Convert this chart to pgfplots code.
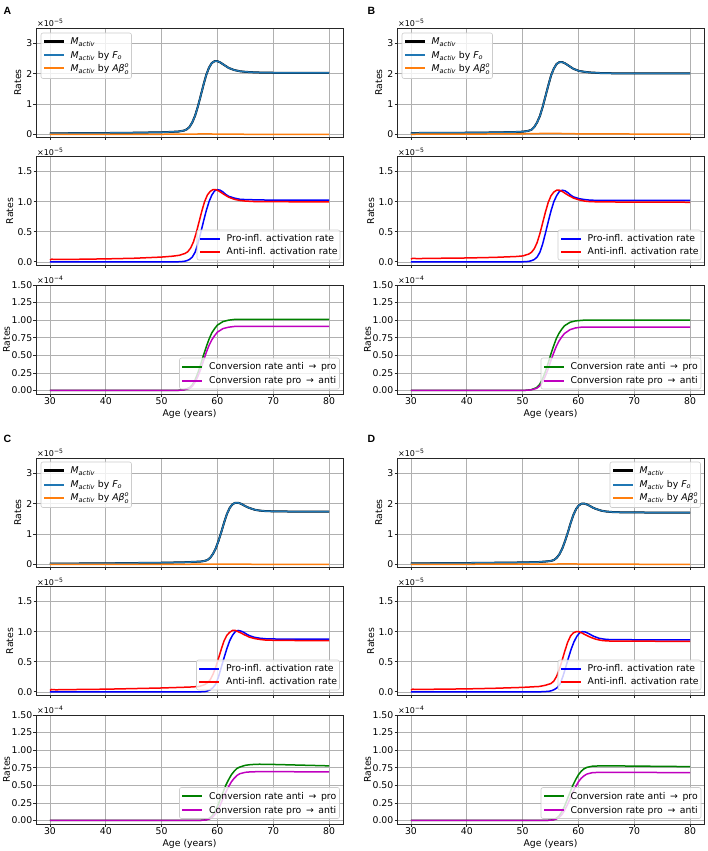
\documentclass[border=0pt]{standalone}
\usepackage{fontspec}
\usepackage{amsmath}
\setmainfont{DejaVu Sans}
\newfontfamily\letterfont{Liberation Sans}
\usepackage{pgfplots}
\pgfplotsset{compat=1.18}
\definecolor{tabblue}{HTML}{1F77B4}
\definecolor{taborange}{HTML}{FF7F0E}
\definecolor{mplgreen}{HTML}{008000}
\definecolor{mplmag}{HTML}{BF00BF}
\definecolor{gridgray}{HTML}{B0B0B0}
\definecolor{legframe}{HTML}{CCCCCC}
\newcommand{\fs}{\fontsize{9.3}{11}\selectfont}
\tikzset{mult/.style={anchor=south west, inner sep=1pt, font=\fontsize{8}{9}\selectfont},
  letter/.style={font=\letterfont\bfseries\fontsize{10.5}{12}\selectfont}}
\newcommand{\arr}{\enspace→\enspace}
% legend helpers (coordinates relative to the legend's north-west corner)
\newcommand{\legbox}[2]{\draw[draw=legframe, fill=white, fill opacity=0.8, rounded corners=2pt, line width=0.6pt] (0,0) rectangle (#1,-#2);}
\newcommand{\legrow}[4]{\fill[#2] (2.5pt,-#1-#3/2) rectangle (22.5pt,-#1+#3/2);
  \node[anchor=base west, inner sep=0pt, font=\fs] at (29.5pt,-#1-3.3pt) {#4};}
\newcommand{\legtop}[2]{\begin{scope}[shift={(#1,#2)}]
  \legbox{90.5pt}{45.5pt}
  \legrow{8.5pt}{black}{2.2pt}{$\textit{M}_{\textit{activ}}$}
  \legrow{22.5pt}{tabblue}{2pt}{$\textit{M}_{\textit{activ}}$ by $\textit{F}_{\textit{o}}$}
  \legrow{35.5pt}{taborange}{2pt}{$\textit{M}_{\textit{activ}}$ by $\textit{Aβ}^{\textit{o}}_{\textit{o}}$}
  \end{scope}}
\newcommand{\legmid}[2]{\begin{scope}[shift={(#1,#2)}]
  \legbox{143pt}{30pt}
  \legrow{8.5pt}{blue}{2pt}{Pro-infl. activation rate}
  \legrow{21.5pt}{red}{2pt}{Anti-infl. activation rate}
  \end{scope}}
\newcommand{\legbot}[2]{\begin{scope}[shift={(#1,#2)}]
  \legbox{160pt}{31pt}
  \legrow{8.5pt}{mplgreen}{2pt}{Conversion rate anti\arr pro}
  \legrow{22.5pt}{mplmag}{2pt}{Conversion rate pro\arr anti}
  \end{scope}}
\pgfplotsset{
  base/.style={
    scale only axis, width=307pt, height=109pt,
    xmin=27.5, xmax=82.5, xtick={30,40,50,60,70,80},
    grid=major, major grid style={line width=0.6pt, color=gridgray},
    axis line style={line width=0.8pt, black!85},
    tick align=outside, tick pos=left, major tick length=2.5pt,
    tick style={line width=0.8pt, black!85},
    tick label style={font=\fs, inner sep=1pt},
    label style={font=\fs},
    /pgf/number format/assume math mode=true,
    ylabel={Rates},
    xlabel style={at={(axis description cs:0.5,-0.183)}, anchor=center},
    every axis plot/.append style={line width=1.5pt},
  },
  toprow/.style={base, ymin=-0.08, ymax=3.5, ytick={0,1,2,3},
    yticklabel style={/pgf/number format/fixed,/pgf/number format/precision=0},
    xticklabels={},
    ylabel style={at={(axis description cs:-0.059,0.5)}, anchor=center},
    extra description/.code={\node[mult] at (0,1) {×10\textsuperscript{−5}};}},
  midrow/.style={base, ymin=-0.06, ymax=1.75, ytick={0,0.5,1,1.5},
    yticklabel style={/pgf/number format/fixed,/pgf/number format/fixed zerofill,/pgf/number format/precision=1},
    xticklabels={},
    ylabel style={at={(axis description cs:-0.085,0.5)}, anchor=center},
    extra description/.code={\node[mult] at (0,1) {×10\textsuperscript{−5}};}},
  botrow/.style={base, ymin=-0.05, ymax=1.5, ytick={0,0.25,0.5,0.75,1,1.25,1.5},
    yticklabel style={/pgf/number format/fixed,/pgf/number format/fixed zerofill,/pgf/number format/precision=2},
    xlabel={Age (years)},
    ylabel style={at={(axis description cs:-0.096,0.5)}, anchor=center},
    extra description/.code={\node[mult] at (0,1) {×10\textsuperscript{−4}};}},
}
\begin{document}
\begin{tikzpicture}
\useasboundingbox (0,0) rectangle (708pt,-851pt);
\node[letter] at (7.5pt,-10.5pt) {A};
\node[letter] at (371.5pt,-10.5pt) {B};
\node[letter] at (7.5pt,-439pt) {C};
\node[letter] at (371.5pt,-439pt) {D};

%================ PANEL A ================
\begin{axis}[toprow, at={(36pt,-28pt)}, anchor=north west]
\addplot[draw=black, line width=2pt] coordinates {(30,0.04)(35,0.045)(40,0.05)(45,0.06)(50,0.075)(52,0.09)(53,0.10)(54,0.13)(54.5,0.17)(55,0.25)(55.5,0.40)(56,0.62)(56.5,0.92)(57,1.27)(57.5,1.63)(58,1.96)(58.5,2.20)(59,2.35)(59.5,2.41)(60,2.41)(60.5,2.37)(61,2.31)(61.5,2.25)(62,2.19)(63,2.12)(64,2.08)(65,2.06)(67,2.04)(70,2.03)(80,2.03)};
\addplot[draw=tabblue] coordinates {(30,0.04)(35,0.045)(40,0.05)(45,0.06)(50,0.075)(52,0.09)(53,0.10)(54,0.13)(54.5,0.17)(55,0.25)(55.5,0.40)(56,0.62)(56.5,0.92)(57,1.27)(57.5,1.63)(58,1.96)(58.5,2.20)(59,2.35)(59.5,2.41)(60,2.41)(60.5,2.37)(61,2.31)(61.5,2.25)(62,2.19)(63,2.12)(64,2.08)(65,2.06)(67,2.04)(70,2.03)(80,2.03)};
\addplot[draw=taborange] coordinates {(30,0.005)(40,0.008)(50,0.01)(55,0.015)(57,0.02)(60,0.018)(65,0.01)(80,0.008)};
\end{axis}
\legtop{41pt}{-33pt}

\begin{axis}[midrow, at={(36pt,-156.5pt)}, anchor=north west]
\addplot[draw=blue] coordinates {(30,0)(50,0)(53,0.002)(54,0.008)(54.5,0.02)(55,0.04)(55.5,0.08)(56,0.16)(56.5,0.30)(57,0.48)(57.5,0.67)(58,0.85)(58.5,1.0)(59,1.11)(59.5,1.18)(60,1.20)(60.5,1.19)(61,1.16)(61.5,1.12)(62,1.09)(63,1.06)(64,1.04)(65,1.035)(67,1.03)(70,1.025)(80,1.025)};
\addplot[draw=red] coordinates {(30,0.03)(30.3,0.045)(31,0.04)(33,0.04)(36,0.045)(40,0.05)(45,0.06)(50,0.08)(52,0.095)(53.2,0.11)(54.2,0.14)(54.7,0.17)(55.2,0.23)(55.7,0.33)(56.2,0.48)(56.7,0.66)(57.2,0.84)(57.7,1.0)(58.2,1.11)(58.7,1.17)(59.2,1.20)(59.7,1.20)(60.2,1.18)(60.7,1.15)(61.2,1.12)(62,1.075)(63,1.04)(64,1.02)(65,1.01)(67,1.0)(70,1.0)(80,0.995)};
\end{axis}
\legmid{197pt}{-230pt}

\begin{axis}[botrow, at={(36pt,-285pt)}, anchor=north west]
\addplot[draw=mplgreen] coordinates {(30,0)(50,0)(53,0.003)(54,0.01)(55,0.04)(55.5,0.08)(56,0.15)(56.5,0.25)(57,0.37)(57.5,0.5)(58,0.62)(58.5,0.73)(59,0.82)(59.5,0.88)(60,0.93)(61,0.98)(62,1.0)(63,1.01)(65,1.012)(80,1.012)};
\addplot[draw=mplmag] coordinates {(30,0)(50,0)(53,0.002)(54,0.008)(55,0.03)(55.5,0.06)(56,0.12)(56.5,0.2)(57,0.3)(57.5,0.42)(58,0.54)(58.5,0.64)(59,0.72)(59.5,0.78)(60,0.83)(61,0.88)(62,0.9)(63,0.91)(65,0.912)(80,0.912)};
\end{axis}
\legbot{179.5pt}{-358pt}

%================ PANEL B ================
\begin{axis}[toprow, at={(397pt,-28pt)}, anchor=north west]
\addplot[draw=black, line width=2pt] coordinates {(30,0.05)(35,0.055)(40,0.06)(45,0.07)(49,0.085)(50,0.095)(51,0.12)(51.6,0.16)(52.1,0.25)(52.6,0.40)(53.1,0.61)(53.6,0.91)(54.1,1.26)(54.6,1.61)(55.1,1.94)(55.6,2.17)(56.1,2.32)(56.6,2.38)(57.1,2.38)(57.6,2.34)(58.1,2.28)(58.6,2.22)(59.1,2.16)(60.1,2.09)(61.1,2.06)(62.1,2.04)(64,2.02)(67,2.01)(80,2.01)};
\addplot[draw=tabblue] coordinates {(30,0.05)(35,0.055)(40,0.06)(45,0.07)(49,0.085)(50,0.095)(51,0.12)(51.6,0.16)(52.1,0.25)(52.6,0.40)(53.1,0.61)(53.6,0.91)(54.1,1.26)(54.6,1.61)(55.1,1.94)(55.6,2.17)(56.1,2.32)(56.6,2.38)(57.1,2.38)(57.6,2.34)(58.1,2.28)(58.6,2.22)(59.1,2.16)(60.1,2.09)(61.1,2.06)(62.1,2.04)(64,2.02)(67,2.01)(80,2.01)};
\addplot[draw=taborange] coordinates {(30,0.01)(40,0.015)(50,0.025)(53,0.035)(55,0.04)(57,0.035)(60,0.025)(65,0.02)(80,0.015)};
\end{axis}
\legtop{402pt}{-33pt}

\begin{axis}[midrow, at={(397pt,-156.5pt)}, anchor=north west]
\addplot[draw=blue] coordinates {(30,0)(47,0)(50.1,0.002)(51.1,0.008)(51.6,0.02)(52.1,0.04)(52.6,0.08)(53.1,0.16)(53.6,0.30)(54.1,0.48)(54.6,0.67)(55.1,0.85)(55.6,1.0)(56.1,1.10)(56.6,1.17)(57.1,1.19)(57.6,1.18)(58.1,1.15)(58.6,1.11)(59.1,1.08)(60.1,1.05)(61.1,1.035)(62.1,1.025)(64,1.02)(67,1.02)(80,1.02)};
\addplot[draw=red] coordinates {(30,0.045)(30.3,0.06)(31,0.055)(35,0.06)(40,0.065)(45,0.075)(49,0.09)(50.1,0.10)(51.1,0.13)(51.6,0.16)(52.1,0.22)(52.6,0.32)(53.1,0.47)(53.6,0.65)(54.1,0.83)(54.6,0.99)(55.1,1.10)(55.6,1.16)(56.1,1.19)(56.6,1.19)(57.1,1.17)(57.6,1.14)(58.1,1.11)(59.1,1.06)(60.1,1.03)(61.1,1.01)(62.1,1.0)(65,0.995)(80,0.99)};
\end{axis}
\legmid{558pt}{-230pt}

\begin{axis}[botrow, at={(397pt,-285pt)}, anchor=north west]
\addplot[draw=mplgreen] coordinates {(30,0)(47.5,0)(50.5,0.003)(51.5,0.01)(52.5,0.04)(53,0.08)(53.5,0.15)(54,0.25)(54.5,0.37)(55,0.5)(55.5,0.62)(56,0.73)(56.5,0.81)(57,0.87)(57.5,0.92)(58.5,0.97)(59.5,0.99)(61,1.0)(80,1.0)};
\addplot[draw=mplmag] coordinates {(30,0)(47.5,0)(50.5,0.003)(51.5,0.008)(52.5,0.03)(53,0.06)(53.5,0.11)(54,0.19)(54.5,0.29)(55,0.41)(55.5,0.52)(56,0.62)(56.5,0.70)(57,0.76)(57.5,0.81)(58.5,0.865)(59.5,0.89)(60.5,0.9)(62,0.9)(80,0.9)};
\end{axis}
\legbot{541pt}{-358pt}

%================ PANEL C ================
\begin{axis}[toprow, at={(36pt,-458pt)}, anchor=north west]
\addplot[draw=black, line width=2pt] coordinates {(30,0.03)(35,0.035)(40,0.04)(45,0.05)(50,0.06)(54,0.075)(56,0.09)(57,0.10)(57.7,0.12)(58.2,0.15)(58.7,0.22)(59.2,0.35)(59.7,0.53)(60.2,0.78)(60.7,1.07)(61.2,1.38)(61.7,1.66)(62.2,1.86)(62.7,1.98)(63.2,2.03)(63.7,2.03)(64.2,2.00)(64.7,1.95)(65.2,1.90)(65.7,1.86)(66.7,1.80)(67.7,1.77)(68.7,1.755)(71,1.745)(75,1.74)(80,1.74)};
\addplot[draw=tabblue] coordinates {(30,0.03)(35,0.035)(40,0.04)(45,0.05)(50,0.06)(54,0.075)(56,0.09)(57,0.10)(57.7,0.12)(58.2,0.15)(58.7,0.22)(59.2,0.35)(59.7,0.53)(60.2,0.78)(60.7,1.07)(61.2,1.38)(61.7,1.66)(62.2,1.86)(62.7,1.98)(63.2,2.03)(63.7,2.03)(64.2,2.00)(64.7,1.95)(65.2,1.90)(65.7,1.86)(66.7,1.80)(67.7,1.77)(68.7,1.755)(71,1.745)(75,1.74)(80,1.74)};
\addplot[draw=taborange] coordinates {(30,0.004)(40,0.006)(50,0.008)(58,0.012)(61,0.015)(64,0.012)(70,0.008)(80,0.006)};
\end{axis}
\legtop{41pt}{-462pt}

\begin{axis}[midrow, at={(36pt,-586.5pt)}, anchor=north west]
\addplot[draw=blue] coordinates {(30,0)(55,0)(57.7,0.003)(58.2,0.015)(58.7,0.035)(59.2,0.07)(59.7,0.13)(60.2,0.25)(60.7,0.41)(61.2,0.57)(61.7,0.72)(62.2,0.85)(62.7,0.94)(63.2,1.0)(63.7,1.02)(64.2,1.01)(64.7,0.99)(65.2,0.96)(65.7,0.935)(66.7,0.905)(67.7,0.89)(68.7,0.882)(71,0.877)(75,0.875)(80,0.875)};
\addplot[draw=red] coordinates {(30,0.025)(30.3,0.04)(31,0.035)(35,0.04)(40,0.045)(45,0.055)(50,0.065)(55,0.08)(56.7,0.09)(57.7,0.12)(58.2,0.15)(58.7,0.20)(59.2,0.29)(59.7,0.41)(60.2,0.56)(60.7,0.71)(61.2,0.85)(61.7,0.94)(62.2,0.99)(62.7,1.02)(63.2,1.02)(63.7,1.0)(64.2,0.98)(64.7,0.955)(65.7,0.91)(66.7,0.885)(67.7,0.87)(68.7,0.86)(71,0.855)(80,0.85)};
\end{axis}
\legmid{196.5pt}{-660pt}

\begin{axis}[botrow, at={(36pt,-715pt)}, anchor=north west]
\addplot[draw=mplgreen] coordinates {(30,0)(54,0)(57,0.003)(58,0.01)(58.5,0.03)(59,0.06)(59.5,0.12)(60,0.2)(60.5,0.3)(61,0.4)(61.5,0.5)(62,0.58)(62.5,0.65)(63,0.7)(63.5,0.74)(64,0.76)(65,0.785)(66,0.795)(67.5,0.80)(70,0.797)(75,0.787)(80,0.777)};
\addplot[draw=mplmag] coordinates {(30,0)(54,0)(57,0.002)(58,0.008)(58.5,0.02)(59,0.04)(59.5,0.08)(60,0.14)(60.5,0.22)(61,0.31)(61.5,0.40)(62,0.48)(62.5,0.55)(63,0.6)(63.5,0.64)(64,0.665)(65,0.685)(66,0.692)(68,0.695)(72,0.694)(80,0.69)};
\end{axis}
\legbot{179.5pt}{-787.5pt}

%================ PANEL D ================
\begin{axis}[toprow, at={(397pt,-458pt)}, anchor=north west]
\addplot[draw=black, line width=2pt] coordinates {(30,0.04)(35,0.045)(40,0.05)(45,0.06)(50,0.07)(53,0.085)(54.1,0.10)(55.1,0.12)(55.6,0.15)(56.1,0.22)(56.6,0.34)(57.1,0.52)(57.6,0.77)(58.1,1.05)(58.6,1.36)(59.1,1.63)(59.6,1.83)(60.1,1.95)(60.6,2.0)(61.1,2.0)(61.6,1.97)(62.1,1.92)(62.6,1.87)(63.1,1.83)(64.1,1.77)(65.1,1.74)(66.1,1.725)(68,1.715)(72,1.71)(80,1.71)};
\addplot[draw=tabblue] coordinates {(30,0.04)(35,0.045)(40,0.05)(45,0.06)(50,0.07)(53,0.085)(54.1,0.10)(55.1,0.12)(55.6,0.15)(56.1,0.22)(56.6,0.34)(57.1,0.52)(57.6,0.77)(58.1,1.05)(58.6,1.36)(59.1,1.63)(59.6,1.83)(60.1,1.95)(60.6,2.0)(61.1,2.0)(61.6,1.97)(62.1,1.92)(62.6,1.87)(63.1,1.83)(64.1,1.77)(65.1,1.74)(66.1,1.725)(68,1.715)(72,1.71)(80,1.71)};
\addplot[draw=taborange] coordinates {(30,0.006)(40,0.01)(50,0.014)(55,0.018)(58,0.02)(61,0.018)(66,0.012)(80,0.008)};
\end{axis}
\legtop{610pt}{-462pt}

\begin{axis}[midrow, at={(397pt,-586.5pt)}, anchor=north west]
\addplot[draw=blue] coordinates {(30,0)(52,0)(53.7,0.003)(54.7,0.01)(55.2,0.02)(55.7,0.04)(56.2,0.07)(56.7,0.13)(57.2,0.25)(57.7,0.40)(58.2,0.56)(58.7,0.71)(59.2,0.83)(59.7,0.92)(60.2,0.98)(60.7,1.0)(61.2,0.995)(61.7,0.975)(62.2,0.95)(62.7,0.925)(63.7,0.89)(64.7,0.875)(65.7,0.868)(68,0.866)(80,0.865)};
\addplot[draw=red] coordinates {(30,0.03)(30.3,0.045)(31,0.04)(35,0.045)(40,0.05)(45,0.06)(50,0.075)(53,0.09)(54.1,0.11)(55.1,0.14)(55.6,0.18)(56.1,0.26)(56.6,0.38)(57.1,0.53)(57.6,0.69)(58.1,0.83)(58.6,0.93)(59.1,0.98)(59.6,1.0)(60.1,1.0)(60.6,0.98)(61.1,0.955)(62.1,0.91)(63.1,0.875)(64.1,0.855)(65.1,0.846)(67,0.842)(80,0.84)};
\end{axis}
\legmid{558pt}{-660pt}

\begin{axis}[botrow, at={(397pt,-715pt)}, anchor=north west]
\addplot[draw=mplgreen] coordinates {(30,0)(52,0)(54.5,0.003)(55.5,0.01)(56,0.03)(56.5,0.06)(57,0.12)(57.5,0.2)(58,0.3)(58.5,0.4)(59,0.5)(59.5,0.58)(60,0.65)(60.5,0.7)(61,0.735)(61.5,0.755)(62.5,0.772)(64,0.777)(67,0.776)(72,0.772)(80,0.766)};
\addplot[draw=mplmag] coordinates {(30,0)(52,0)(54.5,0.002)(55.5,0.008)(56,0.02)(56.5,0.04)(57,0.08)(57.5,0.14)(58,0.22)(58.5,0.31)(59,0.40)(59.5,0.48)(60,0.55)(60.5,0.6)(61,0.635)(61.5,0.66)(62.5,0.68)(64,0.686)(68,0.685)(80,0.68)};
\end{axis}
\legbot{541pt}{-787.5pt}
\end{tikzpicture}
\end{document}
